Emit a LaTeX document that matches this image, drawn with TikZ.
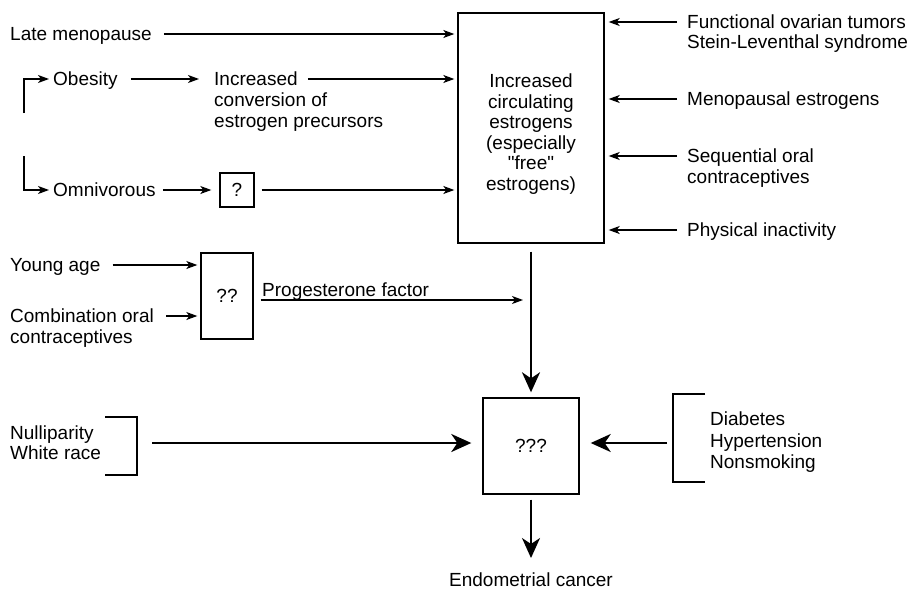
\documentclass[tikz,border=0pt]{standalone}
\usepackage{fontspec}
\setmainfont{Liberation Sans}[Ligatures=TeXOff]
\usetikzlibrary{arrows.meta}

\tikzset{
  lbl/.style={anchor=west, inner sep=0pt, text height=13.6pt, text depth=0pt},
  box/.style={draw, line width=1.4pt, inner sep=0pt, align=center},
  arr/.style={line width=1.2pt, -{Stealth[length=11pt,width=8pt,inset=3pt]}},
  bigarr/.style={line width=2.2pt, -{Stealth[length=20pt,width=18pt,inset=6pt]}},
}

\begin{document}
\begin{tikzpicture}[x=1pt, y=-1pt, font=\fontsize{19}{20.6}\selectfont]
\useasboundingbox (0,0) rectangle (912,589);

% boxes
\node[box, minimum width=146, minimum height=230] (estr) at (531,128)
  {\rule{0pt}{26pt}Increased\\circulating\\estrogens\\(especially\\"free"\\estrogens)};
\node[box, minimum width=34, minimum height=34] (qbox) at (237,190) {?};
\node[box, minimum width=52, minimum height=86] (dbox) at (227,296) {??};
\node[box, minimum width=96, minimum height=96] (cbox) at (531,446) {???};

% left side
\node[lbl] (late) at (10,34) {Late menopause};
\node[lbl] (obes) at (53,79) {Obesity};
\node[lbl] (incr) at (214,79) {Increased};
\node[lbl] (conv) at (214,100) {conversion of};
\node[lbl] (prec) at (214,121) {estrogen precursors};
\node[lbl] (omni) at (53,190) {Omnivorous};
\node[lbl] (young) at (10,265) {Young age};
\node[lbl] (comb) at (10,316) {Combination oral};
\node[lbl] (cont) at (10,337) {contraceptives};
\node[lbl, anchor=base west] (prog) at (262,296) {Progesterone factor};
\node[lbl] (nul) at (10,433) {Nulliparity};
\node[lbl] (white) at (10,453) {White race};

% right side
\node[lbl] (func) at (687,22) {Functional ovarian tumors};
\node[lbl] (stein) at (687,42) {Stein-Leventhal syndrome};
\node[lbl] (meno) at (687,99) {Menopausal estrogens};
\node[lbl] (seq) at (687,156) {Sequential oral};
\node[lbl] (seqb) at (687,177) {contraceptives};
\node[lbl] (phys) at (687,230) {Physical inactivity};
\node[lbl] (diab) at (710,419) {Diabetes};
\node[lbl] (hyp) at (710,441) {Hypertension};
\node[lbl] (nons) at (710,462) {Nonsmoking};
\node[lbl, anchor=center] (endo) at (531,580) {Endometrial cancer};

\coordinate (diet1) at (24,113);
\coordinate (diet2) at (24,156);
\coordinate (pf) at (523,300);
\coordinate (nulbr) at (137,443);
\coordinate (riskbr) at (673,443);

% brackets
\draw[line width=1.3pt] (105,417) -| (nulbr) |- (105,475);
\draw[line width=1.3pt] (705,394) -| (riskbr) |- (705,482);

% thin arrows
\draw[arr, shorten >=4pt] (diet1) |- (obes);
\draw[arr, shorten >=4pt] (diet2) |- (omni);
\draw[arr, shorten <=13pt, shorten >=15pt] (obes) -- (incr);
\draw[arr, shorten <=7pt, shorten >=8pt] (omni) -- (qbox);
\foreach \n/\g in {late/12pt,incr/10pt,qbox/7pt}
  \draw[arr, shorten <=\g, shorten >=3pt] (\n) -- (\n -| estr.west);
\foreach \n in {young,comb}
  \draw[arr, shorten <=12pt, shorten >=3pt] (\n) -- (\n -| dbox.west);
\draw[arr, shorten <=7pt] (dbox.east |- pf) -- (pf);
\foreach \n in {func,meno,seq,phys}
  \draw[arr, shorten <=10pt, shorten >=4pt] (\n) -- (\n -| estr.east);

% thick arrows
\draw[bigarr, shorten <=8pt, shorten >=5pt] (estr) -- (cbox);
\draw[bigarr, shorten <=15pt, shorten >=11pt] (nulbr) -- (nulbr -| cbox.west);
\draw[bigarr, shorten <=6pt, shorten >=11pt] (riskbr) -- (riskbr -| cbox.east);
\draw[bigarr, shorten <=5pt, shorten >=15pt] (cbox) -- (endo);
\end{tikzpicture}
\end{document}
